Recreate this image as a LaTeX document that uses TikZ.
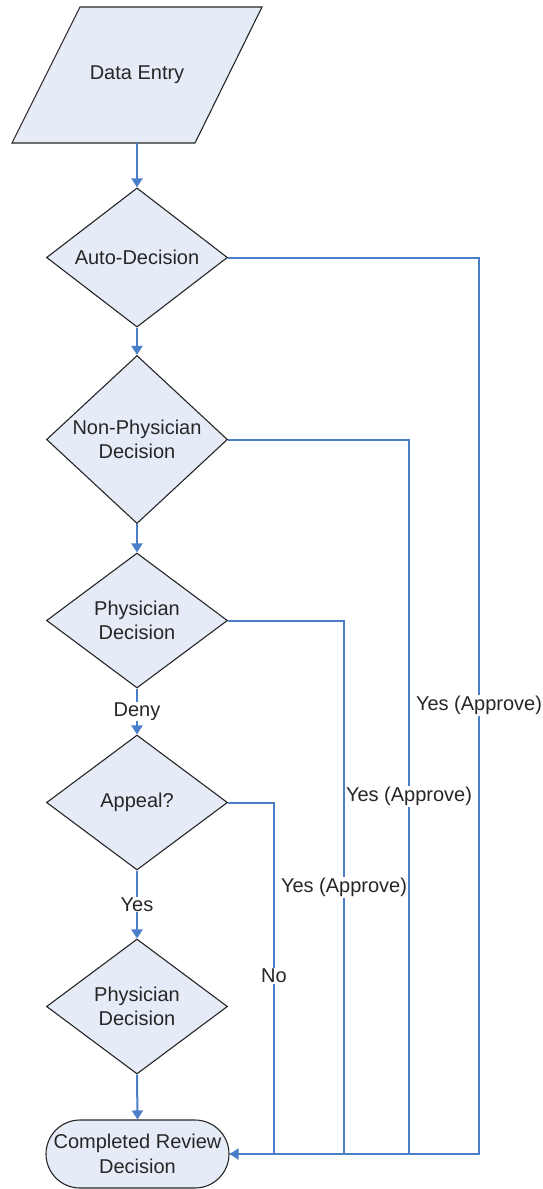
\documentclass[tikz,border=0pt]{standalone}
\usepackage{fontspec}
\setmainfont{Liberation Sans}
\usetikzlibrary{shapes.geometric,arrows.meta}
\definecolor{lineblue}{HTML}{4A7EC8}
\definecolor{boxfill}{HTML}{E6ECF7}
\definecolor{ink}{HTML}{262626}
\begin{document}
\begin{tikzpicture}[x=1pt,y=-1pt,
  font=\fontsize{20}{24.5}\selectfont,
  dec/.style={diamond, draw=ink, fill=boxfill, line width=1.1pt, minimum width=181pt, minimum height=135pt, inner sep=0pt, align=center, text=ink},
  flow/.style={draw=lineblue, line width=2pt, -{Triangle[width=11pt,length=9pt]}},
  link/.style={draw=lineblue, line width=2pt},
  lbl/.style={fill=white, inner sep=1pt, text=ink},
  shapebox/.style={draw=ink, fill=boxfill, line width=1.1pt}]
\useasboundingbox[fill=white] (0,0) rectangle (542,1189);
% Data entry parallelogram
\draw[shapebox] (80,7) -- (262,7) -- (195,143) -- (12,143) -- cycle;
\node[minimum height=136pt, inner sep=0pt, text=ink] (entry) at (137,75) {Data Entry};
% decisions
\node[dec] (d1) at (137,257.5) {Auto-Decision};
\node[dec] (d2) at (137,439.5) {Non-Physician\\Decision};
\node[dec] (d3) at (137,620.5) {Physician\\Decision};
\node[dec] (d4) at (137,802.5) {Appeal?};
\node[dec] (d5) at (137,1006.5) {Physician\\Decision};
\node[shapebox, rounded corners=34pt, minimum width=183pt, minimum height=68pt, inner sep=2pt, align=center, text=ink] (term) at (137.5,1154) {Completed Review\\Decision};
% bus columns
\coordinate (b1) at (479,0);
\coordinate (b2) at (409,0);
\coordinate (b3) at (344,0);
\coordinate (b4) at (274,0);
% main flow
\draw[flow] (entry.south) -- (d1.north);
\draw[flow] (d1.south) -- (d2.north);
\draw[flow] (d2.south) -- (d3.north);
\draw[flow] (d3.south) -- node[lbl] {Deny} (d4.north);
\draw[flow] (d4.south) -- node[lbl] {Yes} (d5.north);
\draw[flow] (d5.south) -- (term.north);
% side branches
\draw[link] (d4.east) -- (d4.east -| b4) |- node[lbl, pos=0.247] {No} (term.east);
\draw[link] (d3.east) -- (d3.east -| b3) |- node[lbl, pos=0.25] {Yes (Approve)} (term.east);
\draw[link] (d2.east) -- (d2.east -| b2) |- node[lbl, pos=0.25] {Yes (Approve)} (term.east);
\draw[flow] (d1.east) -- (d1.east -| b1) |- node[lbl, pos=0.25] {Yes (Approve)} (term.east);
\end{tikzpicture}
\end{document}
